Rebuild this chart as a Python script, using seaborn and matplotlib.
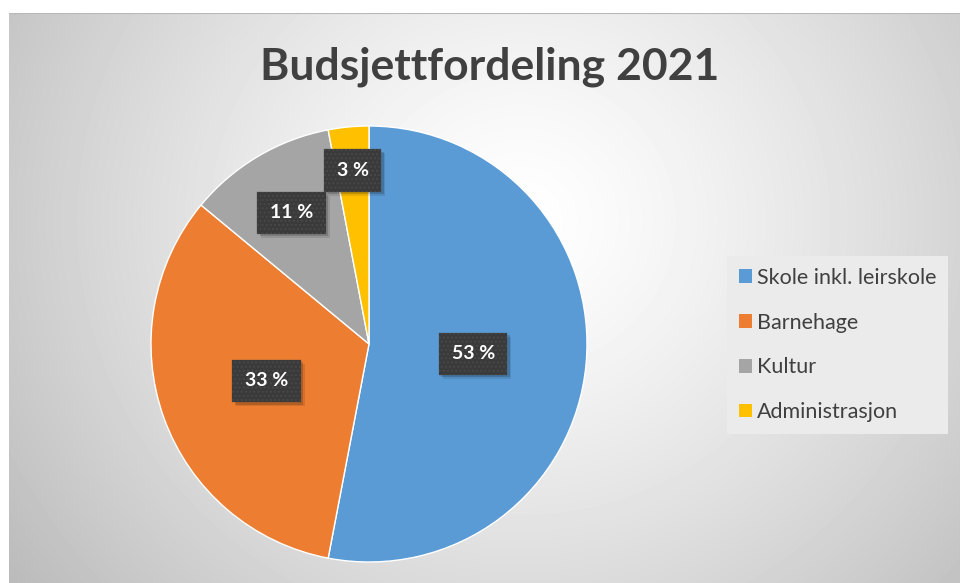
import matplotlib
matplotlib.use('Agg')
import matplotlib.pyplot as plt
from matplotlib.patches import Rectangle
import numpy as np
import seaborn as sns

# data
categories = ['Skole inkl. leirskole', 'Barnehage', 'Kultur', 'Administrasjon']
shares = [53, 33, 11, 3]
pct_labels = ['53 %', '33 %', '11 %', '3 %']
title = 'Budsjettfordeling 2021'

# office-like colours
colors = sns.color_palette(['#5B9BD5', '#ED7D31', '#A5A5A5', '#FFC000'])
label_radius = [0.48, 0.50, 0.70, 0.80]   # Excel "best fit" placement

sns.set_style('white')
plt.rcParams['font.family'] = ['Lato', 'DejaVu Sans']

W, H = 960, 583
fig = plt.figure(figsize=(W / 100, H / 100), dpi=100)
fig.patch.set_facecolor('white')

# background with radial gradient
bg = fig.add_axes([9 / W, 0, (W - 9) / W, (H - 13) / H])
yy, xx = np.mgrid[13:H, 9:W]
d = np.sqrt(((xx - 520) / 1.0) ** 2 + ((yy - 220) / 0.95) ** 2) / 620
shade = 1 - 0.26 * np.clip(d, 0, 1.1) ** 1.3
bg.imshow(shade, cmap='gray', vmin=0, vmax=1, aspect='auto',
          extent=[0, 1, 0, 1], interpolation='bilinear')
bg.axhline(1, color='#b8b8b8', lw=1.5)
bg.set_axis_off()

# pie
cx, cy, r = 369, 344, 218
ax = fig.add_axes([(cx - r) / W, (H - cy - r) / H, 2 * r / W, 2 * r / H])
wedges, _ = ax.pie(shares, colors=colors, startangle=90, counterclock=False,
                   wedgeprops=dict(edgecolor='white', linewidth=1))
ax.set_xlim(-1, 1)
ax.set_ylim(-1, 1)
ax.set_axis_off()

labels = []
for w, txt, rr in zip(wedges, pct_labels, label_radius):
    ang = np.deg2rad((w.theta1 + w.theta2) / 2)
    t = ax.text(rr * np.cos(ang), rr * np.sin(ang), txt, ha='center', va='center',
                color='white', fontsize=14, fontweight='bold', zorder=5,
                bbox=dict(boxstyle='square,pad=0.65', facecolor='#3a3a3a',
                          edgecolor='#484848', linewidth=0.2, hatch='....'))
    labels.append(t)

# soft drop shadow behind each label box (above the wedges)
fig.canvas.draw()
inv = ax.transData.inverted()
for t in labels:
    ext = t.get_bbox_patch().get_window_extent()
    for off, a in [(4, 0.10), (2.5, 0.16)]:
        (x0, y0), (x1, y1) = inv.transform([(ext.x0 + off, ext.y0 - off),
                                            (ext.x1 + off, ext.y1 - off)])
        ax.add_patch(Rectangle((x0, y0), x1 - x0, y1 - y0, facecolor='black',
                               alpha=a, linewidth=0, zorder=4))

# title
fig.text(490 / W, 1 - 67 / H, title, ha='center', va='center',
         fontsize=32, fontweight='bold', color='#404040')

# legend
leg = fig.legend(wedges, categories, loc='center left',
                 bbox_to_anchor=(727 / W, 1 - 345 / H),
                 fontsize=15.5, frameon=True, fancybox=False,
                 handlelength=0.6, handleheight=0.6, handletextpad=0.25,
                 labelspacing=1.15, borderpad=0.55, borderaxespad=0)
leg.get_frame().set_facecolor('#ebebeb')
leg.get_frame().set_edgecolor('none')
leg.get_frame().set_alpha(1)
for txt in leg.get_texts():
    txt.set_color('#404040')
for h in leg.legend_handles:
    h.set_edgecolor('none')

fig.savefig('out.png', dpi=100)
